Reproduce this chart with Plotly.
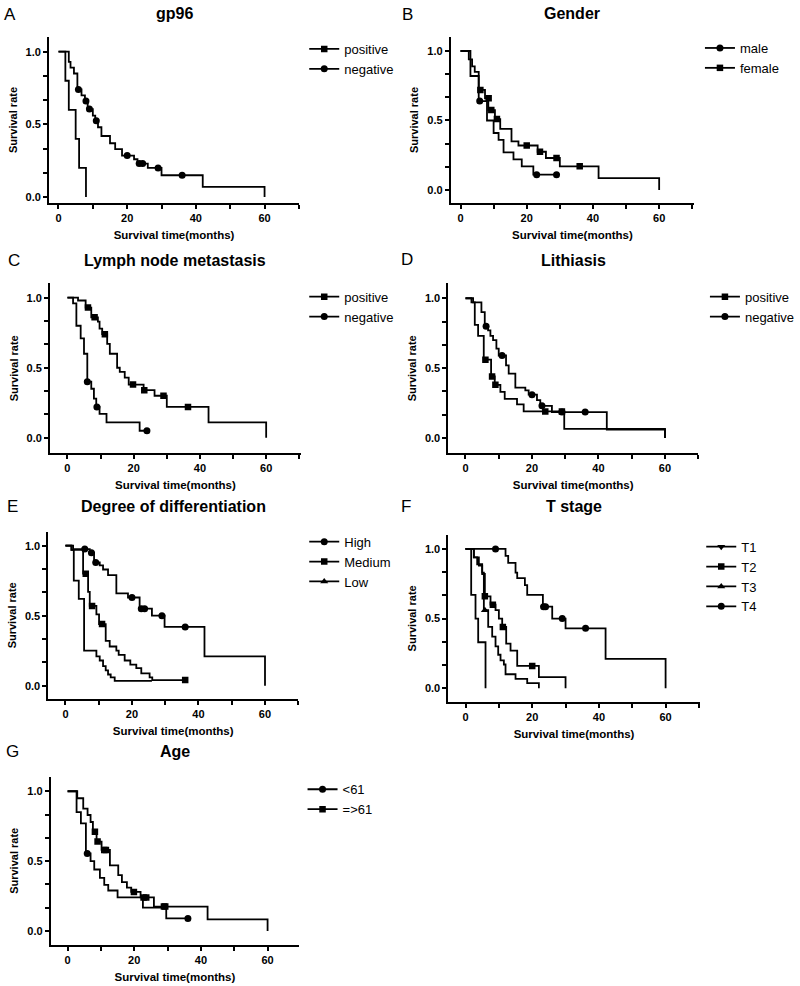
import plotly.graph_objects as go

W, H = 800, 986
FONT = "Arial, 'Liberation Sans', Helvetica, sans-serif"

# ---------------- DATA ----------------
# Each curve: step times (months) and survival levels after each step;
# censor marks: times and levels.

# A  gp96
gp96_pos_t = [0, 2, 3, 5, 6, 8]
gp96_pos_s = [1.0, 0.80, 0.60, 0.40, 0.20, 0.0]
gp96_pos_ct = []
gp96_pos_cs = []
gp96_neg_t = [0, 3, 3.5, 4.5, 5.5, 6.7, 7.7, 8.5, 10, 10.7, 11.5, 12.5, 15, 16.5, 18.5, 22, 23, 26, 30, 42, 60]
gp96_neg_s = [1.0, 0.93, 0.89, 0.85, 0.74, 0.70, 0.66, 0.605, 0.56, 0.525, 0.48, 0.42, 0.37, 0.33, 0.285, 0.26, 0.23, 0.20, 0.15, 0.07, 0.0]
gp96_neg_ct = [5.8, 8, 9, 11, 20, 23.5, 24.5, 29, 36]
gp96_neg_cs = [0.74, 0.66, 0.605, 0.525, 0.285, 0.23, 0.23, 0.20, 0.15]

# B  Gender
male_t = [0, 3, 5.5, 8, 10, 11.5, 13, 16, 18.5, 22, 29]
male_s = [1.0, 0.82, 0.64, 0.50, 0.41, 0.36, 0.27, 0.22, 0.17, 0.11, 0.11]
male_ct = [5.8, 23, 29]
male_cs = [0.64, 0.11, 0.11]
female_t = [0, 2.5, 3.5, 4.3, 5.5, 7.4, 8.4, 10.4, 12, 15.4, 17.5, 23.3, 25.8, 30, 41.7, 60]
female_s = [1.0, 0.94, 0.89, 0.85, 0.72, 0.66, 0.575, 0.51, 0.44, 0.35, 0.32, 0.275, 0.23, 0.17, 0.085, 0.0]
female_ct = [6, 8.5, 9.3, 11, 20, 24, 29, 36]
female_cs = [0.72, 0.66, 0.575, 0.51, 0.32, 0.275, 0.23, 0.17]

# C  Lymph node metastasis
lnm_pos_t = [0, 3.2, 5.5, 7.2, 9.2, 9.7, 10.5, 12, 12.8, 15, 15.8, 17.3, 18.5, 23, 26.3, 30, 42.6, 60]
lnm_pos_s = [1.0, 0.98, 0.93, 0.86, 0.83, 0.78, 0.74, 0.67, 0.60, 0.50, 0.47, 0.43, 0.38, 0.34, 0.30, 0.22, 0.11, 0.0]
lnm_pos_ct = [6.2, 8.2, 11.3, 19.8, 23.2, 29, 36.4]
lnm_pos_cs = [0.93, 0.86, 0.74, 0.38, 0.34, 0.30, 0.22]
lnm_neg_t = [0, 1.7, 2.7, 4, 5, 6, 7.2, 8, 8.7, 9.7, 11.8, 21.8, 24]
lnm_neg_s = [1.0, 0.96, 0.80, 0.71, 0.60, 0.40, 0.35, 0.28, 0.22, 0.17, 0.11, 0.05, 0.05]
lnm_neg_ct = [6, 8.9, 24]
lnm_neg_cs = [0.40, 0.22, 0.05]

# D  Lithiasis
lit_pos_t = [0, 1.8, 2.8, 3.8, 5.5, 7.7, 8.8, 10.5, 11.8, 15.5, 17.5, 29.7, 60]
lit_pos_s = [1.0, 0.97, 0.81, 0.73, 0.56, 0.44, 0.38, 0.33, 0.28, 0.24, 0.19, 0.065, 0.0]
lit_pos_ct = [6, 8, 9, 24, 29]
lit_pos_cs = [0.56, 0.44, 0.38, 0.19, 0.19]
lit_neg_t = [0, 2.3, 4.8, 5.8, 6.8, 7.5, 8.3, 9.3, 10, 12.2, 13, 15, 18, 19, 21.5, 22.5, 26, 42.5, 60]
lit_neg_s = [1.0, 0.97, 0.90, 0.80, 0.77, 0.73, 0.70, 0.64, 0.59, 0.52, 0.46, 0.36, 0.34, 0.31, 0.27, 0.23, 0.185, 0.06, 0.0]
lit_neg_ct = [6.2, 11, 20, 23, 29, 36]
lit_neg_cs = [0.80, 0.59, 0.31, 0.23, 0.185, 0.185]

# E  Degree of differentiation
high_t = [0, 2.3, 7.3, 8.6, 10.3, 11.3, 12.8, 15.3, 18.8, 22.3, 26, 29.8, 41.8, 60]
high_s = [1.0, 0.976, 0.95, 0.88, 0.86, 0.83, 0.79, 0.66, 0.63, 0.55, 0.50, 0.42, 0.21, 0.0]
high_ct = [5.8, 7.8, 9.1, 20, 22.8, 23.8, 29, 36]
high_cs = [0.976, 0.95, 0.88, 0.63, 0.55, 0.55, 0.50, 0.42]
medium_t = [0, 1.8, 5.3, 6.8, 7.3, 9.3, 10.1, 12.1, 13.3, 15.3, 16, 17.8, 19.5, 21.3, 22.8, 25.3, 26.1, 36]
medium_s = [1.0, 0.97, 0.80, 0.67, 0.57, 0.51, 0.44, 0.32, 0.28, 0.25, 0.22, 0.18, 0.15, 0.126, 0.088, 0.06, 0.04, 0.04]
medium_ct = [6.1, 8, 11, 36]
medium_cs = [0.80, 0.57, 0.44, 0.04]
low_t = [0, 1.8, 2.5, 4, 5.6, 9.3, 10.3, 11.3, 12.1, 12.8, 13.6, 14.8, 26]
low_s = [1.0, 0.97, 0.75, 0.62, 0.25, 0.21, 0.18, 0.14, 0.11, 0.08, 0.06, 0.035, 0.035]
low_ct = []
low_cs = []

# F  T stage
t1_t = [0, 1.7, 3, 3.8, 6]
t1_s = [1.0, 0.67, 0.50, 0.33, 0.0]
t1_ct = []
t1_cs = []
t2_t = [0, 2.5, 4, 5, 5.8, 7.5, 9, 10, 11, 12.2, 13.5, 15.5, 22, 30]
t2_s = [1.0, 0.94, 0.88, 0.82, 0.66, 0.60, 0.56, 0.50, 0.44, 0.32, 0.27, 0.16, 0.08, 0.0]
t2_ct = [5.8, 8.2, 11.2, 20]
t2_cs = [0.66, 0.60, 0.44, 0.16]
t3_t = [0, 2.5, 3.5, 5, 5.5, 6.8, 8, 9, 9.8, 10.5, 11.5, 12, 15, 18.5, 22]
t3_s = [1.0, 0.94, 0.89, 0.83, 0.56, 0.44, 0.37, 0.30, 0.24, 0.20, 0.17, 0.10, 0.067, 0.036, 0.0]
t3_ct = [5.8]
t3_cs = [0.56]
t4_t = [0, 12, 12.8, 15, 15.5, 17.8, 18.5, 23.2, 26, 30, 42, 60]
t4_s = [1.0, 0.95, 0.90, 0.83, 0.79, 0.74, 0.67, 0.585, 0.50, 0.43, 0.21, 0.0]
t4_ct = [9, 23.4, 24, 29, 36]
t4_cs = [1.0, 0.585, 0.585, 0.50, 0.43]

# G  Age
young_t = [0, 2.7, 4.0, 5.5, 6.9, 8.0, 9.7, 11.0, 12.2, 15.0, 22.6, 29.6, 36.1]
young_s = [1.0, 0.85, 0.77, 0.555, 0.50, 0.44, 0.38, 0.33, 0.29, 0.24, 0.167, 0.09, 0.09]
young_ct = [5.9, 36.1]
young_cs = [0.555, 0.09]
old_t = [0, 2.9, 4.7, 6.0, 6.9, 7.6, 8.7, 10.2, 12.7, 15.2, 16.3, 17.8, 19.1, 21.9, 25.9, 42, 60]
old_s = [1.0, 0.95, 0.875, 0.83, 0.78, 0.71, 0.64, 0.58, 0.47, 0.40, 0.35, 0.31, 0.28, 0.24, 0.175, 0.083, 0.0]
old_ct = [8.2, 9.0, 11.0, 11.5, 19.9, 22.8, 23.6, 28.9, 29.3]
old_cs = [0.71, 0.64, 0.58, 0.58, 0.28, 0.24, 0.24, 0.175, 0.175]

# ---------------- LAYOUT CONFIG (pixel geometry) ----------------
panels = [
    dict(letter="A", title="gp96", xdom=(49, 300), ydom=(36.7, 203.3), xr=(-2.8, 70.1), yr=(-0.043, 1.103),
         leg=(305, 34), lpos=(10, 15), ty=13,
         series=[("positive", gp96_pos_t, gp96_pos_s, gp96_pos_ct, gp96_pos_cs, "square"),
                 ("negative", gp96_neg_t, gp96_neg_s, gp96_neg_ct, gp96_neg_cs, "circle")]),
    dict(letter="B", title="Gender", xdom=(451.7, 696), ydom=(36.7, 203.3), xr=(-3.0, 70.6), yr=(-0.096, 1.103),
         leg=(701.7, 33), lpos=(409, 15), ty=13,
         series=[("male", male_t, male_s, male_ct, male_cs, "circle"),
                 ("female", female_t, female_s, female_ct, female_cs, "square")]),
    dict(letter="C", title="Lymph node metastasis", xdom=(50, 301.7), ydom=(283.3, 453.3), xr=(-5.3, 70.5), yr=(-0.111, 1.103),
         leg=(305, 281.7), lpos=(14, 260), ty=260,
         series=[("positive", lnm_pos_t, lnm_pos_s, lnm_pos_ct, lnm_pos_cs, "square"),
                 ("negative", lnm_neg_t, lnm_neg_s, lnm_neg_ct, lnm_neg_cs, "circle")]),
    dict(letter="D", title="Lithiasis", xdom=(449.3, 700), ydom=(283.3, 453.3), xr=(-5.2, 70), yr=(-0.11, 1.107),
         leg=(706.7, 281.7), lpos=(408, 259), ty=260,
         series=[("positive", lit_pos_t, lit_pos_s, lit_pos_ct, lit_pos_cs, "square"),
                 ("negative", lit_neg_t, lit_neg_s, lit_neg_ct, lit_neg_cs, "circle")]),
    dict(letter="E", title="Degree of differentiation", xdom=(48.3, 299), ydom=(531.7, 699), xr=(-5.2, 70), yr=(-0.095, 1.1),
         leg=(305, 526.7), lpos=(13, 506.5), ty=506.7,
         series=[("High", high_t, high_s, high_ct, high_cs, "circle"),
                 ("Medium", medium_t, medium_s, medium_ct, medium_cs, "square"),
                 ("Low", low_t, low_s, low_ct, low_cs, "triangle-up")]),
    dict(letter="F", title="T stage", xdom=(449.3, 701.7), ydom=(535, 701.7), xr=(-5.2, 70.3), yr=(-0.097, 1.10),
         leg=(703, 531.7), lpos=(407.5, 506.5), ty=506.7,
         series=[("T1", t1_t, t1_s, t1_ct, t1_cs, "triangle-down"),
                 ("T2", t2_t, t2_s, t2_ct, t2_cs, "square"),
                 ("T3", t3_t, t3_s, t3_ct, t3_cs, "triangle-up"),
                 ("T4", t4_t, t4_s, t4_ct, t4_cs, "circle")]),
    dict(letter="G", title="Age", xdom=(50.7, 300), ydom=(776.7, 945), xr=(-5.1, 69.5), yr=(-0.1, 1.104),
         leg=(303.3, 774.3), lpos=(12.5, 751.5), ty=751.7,
         series=[("<61", young_t, young_s, young_ct, young_cs, "circle"),
                 ("=>61", old_t, old_s, old_ct, old_cs, "square")]),
]

MSIZE = {"circle": 7, "square": 6.5, "triangle-up": 7, "triangle-down": 7}
LW = 1.8

fig = go.Figure()
layout = dict(width=W, height=H, margin=dict(l=0, r=0, t=0, b=0),
              paper_bgcolor="white", plot_bgcolor="white", showlegend=True,
              font=dict(family=FONT, color="black"), annotations=[])

for i, p in enumerate(panels, start=1):
    sfx = "" if i == 1 else str(i)
    xa, ya = "x" + sfx, "y" + sfx
    lg = "legend" if i == 1 else "legend" + str(i)
    for name, t, s, ct, cs, sym in p["series"]:
        fig.add_trace(go.Scatter(x=t, y=s, mode="lines", line=dict(color="black", width=LW, shape="hv"),
                                 xaxis=xa, yaxis=ya, showlegend=False, hoverinfo="skip", name=name))
        if ct:
            fig.add_trace(go.Scatter(x=ct, y=cs, mode="markers",
                                     marker=dict(symbol=sym, size=MSIZE[sym], color="black"),
                                     xaxis=xa, yaxis=ya, showlegend=False, name=name))
        fig.add_trace(go.Scatter(x=[None], y=[None], mode="lines+markers", name=name,
                                 line=dict(color="black", width=LW),
                                 marker=dict(symbol=sym, size=MSIZE[sym], color="black"),
                                 xaxis=xa, yaxis=ya, legend=lg, showlegend=True))
    x0, x1 = p["xdom"]
    ytop, ybot = p["ydom"]
    axis_common = dict(showline=True, linecolor="black", linewidth=1.6, ticks="outside", ticklen=4,
                       tickwidth=1.6, tickcolor="black", showgrid=False, zeroline=False, fixedrange=True,
                       tickfont=dict(family=FONT, size=11, color="black", weight="bold"))
    layout["xaxis" + sfx] = dict(axis_common, domain=[x0 / W, x1 / W], range=list(p["xr"]), anchor=ya,
                                 tick0=0, dtick=20,
                                 minor=dict(tick0=0, dtick=10, ticks="outside", ticklen=4, tickwidth=1.6, tickcolor="black"),
                                 title=dict(text="Survival time(months)", standoff=8,
                                            font=dict(family=FONT, size=11.5, color="black", weight="bold")))
    layout["yaxis" + sfx] = dict(axis_common, domain=[1 - ybot / H, 1 - ytop / H], range=list(p["yr"]), anchor=xa,
                                 tick0=0, dtick=0.5, tickformat=".1f",
                                 minor=dict(tick0=0, dtick=1 / 6, ticks="outside", ticklen=4, tickwidth=1.6, tickcolor="black"),
                                 title=dict(text="Survival rate", standoff=6,
                                            font=dict(family=FONT, size=11, color="black", weight="bold")))
    lx, ly = p["leg"]
    layout[lg] = dict(x=lx / W, y=1 - ly / H, xanchor="left", yanchor="top", bgcolor="rgba(0,0,0,0)",
                      font=dict(family=FONT, size=13, color="black"), tracegroupgap=0, itemclick=False,
                      itemdoubleclick=False)
    # panel title
    layout["annotations"].append(dict(text="<b>" + p["title"] + "</b>", x=(x0 + x1) / 2 / W,
                                      y=1 - p["ty"] / H,
                                      xref="paper", yref="paper", xanchor="center", yanchor="middle",
                                      showarrow=False, font=dict(family=FONT, size=16, color="black")))
    # panel letter
    lxp, lyp = p["lpos"]
    layout["annotations"].append(dict(text=p["letter"], x=lxp / W, y=1 - lyp / H, xref="paper", yref="paper",
                                      xanchor="center", yanchor="middle", showarrow=False,
                                      font=dict(family=FONT, size=17, color="black")))

fig.update_layout(**layout)
fig.write_html("out.html", config={"displayModeBar": False},
               post_script="document.body.style.margin='0';")
